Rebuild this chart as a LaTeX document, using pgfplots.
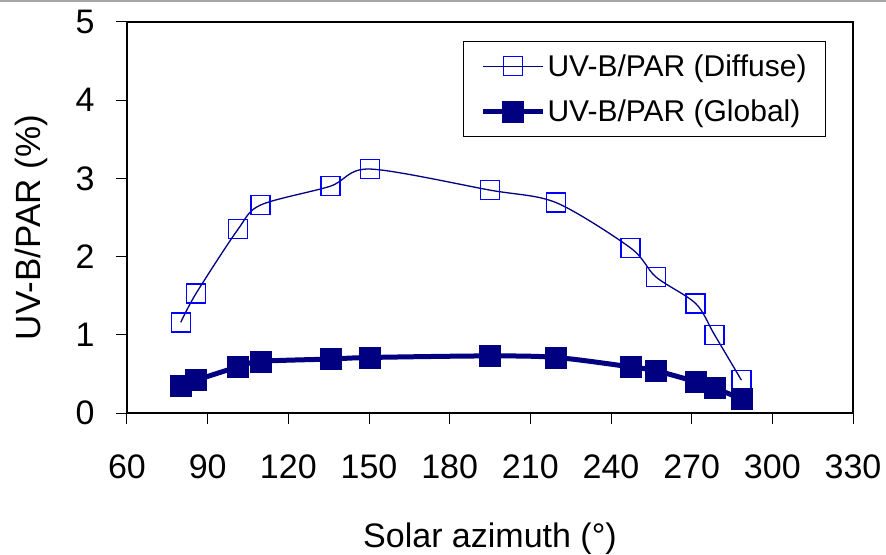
\documentclass[border=0pt]{standalone}
\usepackage{fontspec}
\setmainfont{Liberation Sans}
\usepackage{pgfplots}
\pgfplotsset{compat=1.18}

\definecolor{navyline}{RGB}{0,0,128}
\definecolor{brightblue}{RGB}{0,0,255}

\begin{document}
\begin{tikzpicture}
\begin{axis}[
    name=ax,
    scale only axis,
    width=726bp, height=391bp,
    xmin=60, xmax=330, ymin=0, ymax=5,
    xtick={60,90,...,330},
    ytick={0,1,...,5},
    tick align=outside,
    xtick pos=bottom, ytick pos=left,
    major tick length=11bp,
    axis line style={line width=1.2bp},
    tick style={black, line width=1bp},
    /pgf/number format/assume math mode=true,
    ticklabel style={font=\fontsize{34bp}{40bp}\selectfont},
    xticklabel style={anchor=base, yshift=-54bp},
    yticklabel style={anchor=east, xshift=-18bp},
    xlabel={Solar azimuth (°)},
    ylabel={UV-B/PAR (\%)},
    xlabel style={font=\fontsize{34bp}{40bp}\selectfont,
        at={(axis description cs:0.5,-0.343)}, anchor=base},
    ylabel style={font=\fontsize{35bp}{42bp}\selectfont,
        at={(axis description cs:-0.1198,0.474)}, anchor=base},
    legend style={at={(0.463,0.951)}, anchor=north west,
        draw=black, line width=0.8bp,
        font=\fontsize{30bp}{36bp}\selectfont,
        inner xsep=17bp, inner ysep=11bp, row sep=18bp},
    legend cell align=left,
    legend image code/.code={
        \draw[mark repeat=2, mark phase=2, #1]
        plot coordinates {(0bp,0bp) (30bp,0bp) (60bp,0bp)};},
    clip=false,
]
% diffuse
\addplot[navyline, line width=1.3bp, smooth, tension=0.5,
    mark=square, mark size=9.5bp,
    mark options={draw=brightblue, line width=1.5bp, fill=none}]
coordinates {
    (80.0,1.16) (85.7,1.53) (101.3,2.35) (109.7,2.66) (135.6,2.90)
    (150.3,3.12) (195.0,2.85) (219.6,2.69) (247.3,2.11) (256.7,1.74)
    (271.5,1.40) (278.5,1.00) (288.5,0.42)
};
% global
\addplot[navyline, line width=5bp, smooth, tension=0.5,
    mark=square*, mark size=10.5bp,
    mark options={draw=navyline, fill=navyline, line width=0.5bp}]
coordinates {
    (80.0,0.35) (85.7,0.42) (101.3,0.59) (109.7,0.66) (135.6,0.69)
    (150.3,0.71) (195.0,0.73) (219.6,0.71) (247.3,0.59) (256.7,0.54)
    (271.5,0.40) (278.5,0.32) (288.5,0.18)
};
\legend{UV-B/PAR (Diffuse), UV-B/PAR (Global)}
\end{axis}
\pgfresetboundingbox
\path[use as bounding box] ([xshift=-127bp,yshift=-142bp]ax.south west)
    rectangle ([xshift=33bp,yshift=22bp]ax.north east);
\draw[black!35, line width=2bp] ([xshift=-127bp,yshift=21bp]ax.north west)
    -- ([xshift=33bp,yshift=21bp]ax.north east);
\end{tikzpicture}
\end{document}
